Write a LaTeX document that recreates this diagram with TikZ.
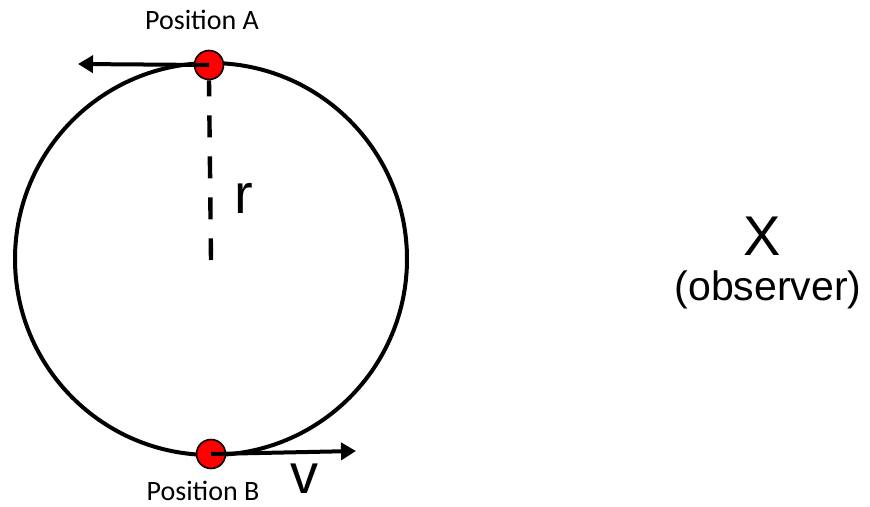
\documentclass[tikz,border=0pt]{standalone}
\usepackage{fontspec}
\setmainfont{Liberation Sans}
\newfontfamily\calibri{Carlito}
\usetikzlibrary{arrows.meta}
\definecolor{dotred}{HTML}{FF0000}

\begin{document}
\begin{tikzpicture}[
  x=1pt, y=-1pt,
  orbitline/.style={draw=black, line width=4pt},
  dot/.style={circle, draw=black, fill=dotred, line width=1.6pt, minimum size=29pt, inner sep=0pt},
  arr/.style={-{Triangle[length=15pt, width=17pt]}, black, line width=4pt},
  radline/.style={black, line width=4.4pt, dash pattern=on 22pt off 19pt, dash phase=6pt},
  poslbl/.style={font=\calibri\fontsize{28}{32}\selectfont, inner sep=0pt},
  biglbl/.style={font=\fontsize{56}{60}\selectfont, inner sep=0pt}
]
\useasboundingbox (0,0) rectangle (870,506);

% orbit and its centre
\coordinate (centre) at (211,260);
\draw[orbitline] (211,259) circle[radius=196pt];

% radius
\node[dot] (posA) at (209,65) {};
\node[dot] (posB) at (211,454) {};
\draw[radline] (posA.south) -- (centre);

% velocity arrows
\coordinate (tipA) at (78,64);
\coordinate (tipB) at (356,451);
\draw[arr] (posA.center) -- (tipA);
\draw[arr] (posB.center) -- (tipB);

% labels
\node[poslbl] (lblA) at (202,20) {Position A};
\node[poslbl] (lblB) at (203,491) {Position B};
\node[biglbl] (r) at (244,198) {r};
\node[biglbl] (v) at (304,479) {v};
\node[biglbl] (obs) at (762,236) {X};
\node[font=\fontsize{41}{44}\selectfont, inner sep=0pt] (obstext) at (768,290) {(observer)};
\end{tikzpicture}
\end{document}
